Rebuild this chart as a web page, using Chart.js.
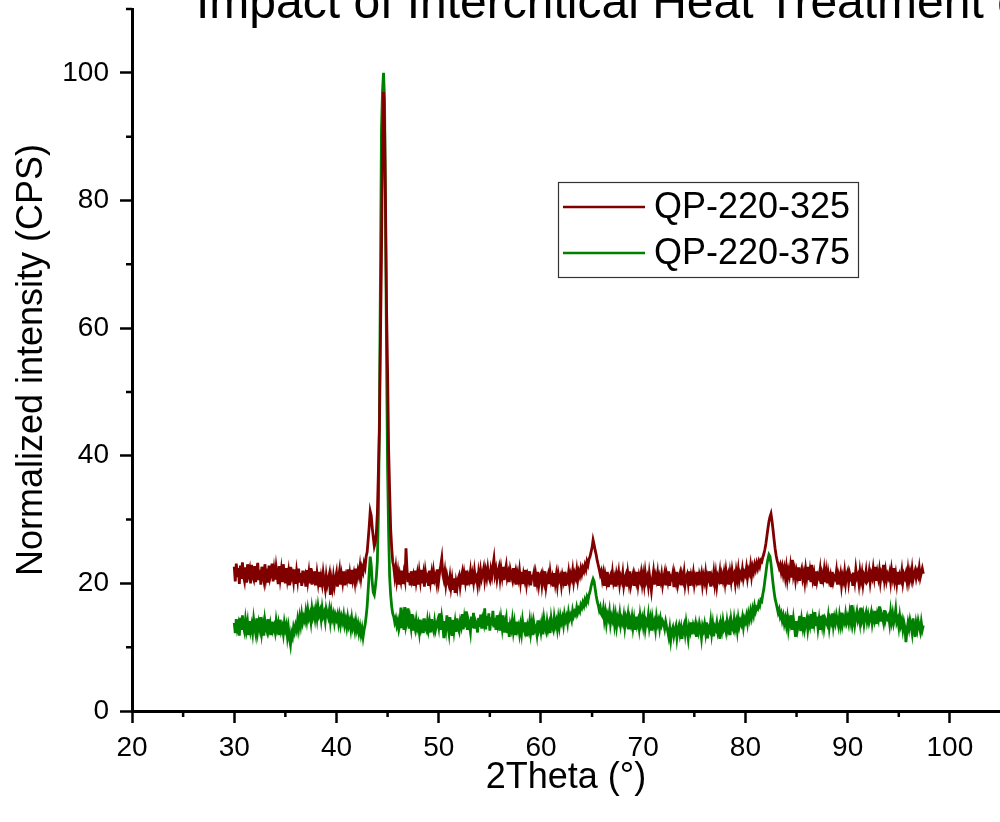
<!DOCTYPE html>
<html>
<head>
<meta charset="utf-8">
<script src="https://cdn.jsdelivr.net/npm/chart.js@4.4.1/dist/chart.umd.min.js"></script>
<style>
    html, body { margin: 0; padding: 0; background: #fff; overflow: hidden; }
</style>
</head>
<body>
<canvas id="chartXRD" width="1000" height="822"></canvas>
<script>
// 2Theta grid: 30.0 .. 97.4 every 0.1 deg, one line below = 1 deg (10 values)
const inicio2Theta = 30.0
const paso2Theta = 0.1

// QP-220-325
const qp220_325 = [
    22.6, 20.3, 23.1, 21.0, 22.4, 19.9, 22.8, 20.7, 23.3, 21.2, // 30
    20.4, 22.5, 20.1, 23.0, 21.5, 22.2, 20.0, 22.9, 21.1, 20.6,
    22.7, 20.2, 21.9, 23.2, 20.5, 22.1, 19.8, 22.6, 21.3, 20.4,
    23.0, 21.0, 22.3, 20.1, 22.8, 20.9, 21.6, 23.1, 20.3, 22.0,
    20.6, 22.5, 21.2, 19.9, 22.7, 20.8, 22.1, 20.2, 23.0, 21.4,
    20.0, 22.4, 20.7, 21.8, 19.7, 22.6, 20.9, 21.5, 20.3, 22.2, // 35
    19.9, 21.8, 20.5, 22.3, 20.1, 21.6, 19.6, 22.0, 20.8, 21.3,
    19.5, 22.1, 20.4, 21.7, 20.0, 22.4, 19.8, 21.2, 20.6, 21.9,
    19.7, 21.5, 20.2, 21.8, 19.4, 20.9, 19.9, 21.6, 20.3, 19.2,
    21.1, 19.8, 20.6, 21.4, 18.2, 20.5, 19.4, 21.0, 19.6, 20.7,
    21.6, 19.5, 20.9, 22.0, 19.8, 21.3, 20.2, 21.9, 19.7, 21.1, // 40
    20.5, 22.2, 20.0, 21.4, 19.9, 22.1, 20.6, 21.5, 20.3, 22.3,
    20.9, 22.0, 21.2, 22.6, 21.0, 22.4, 21.8, 23.1, 22.5, 24.2,
    24.9, 26.8, 28.9, 31.3, 30.6, 28.7, 27.2, 25.8, 26.4, 27.9,
    31.0, 37.5, 44.0, 58.0, 71.0, 88.0, 97.0, 92.0, 79.0, 63.0,
    53.0, 41.0, 34.5, 28.5, 25.6, 23.4, 22.6, 21.1, 22.4, 20.5, // 45
    21.7, 19.8, 21.3, 20.4, 22.0, 19.9, 21.5, 20.6, 25.5, 22.1,
    20.2, 21.6, 19.7, 21.9, 20.5, 21.2, 19.6, 22.0, 20.3, 21.4,
    19.8, 21.7, 20.4, 22.1, 20.0, 21.3, 19.5, 21.8, 20.7, 21.1,
    19.6, 22.0, 20.3, 21.5, 19.9, 21.8, 20.6, 21.2, 20.1, 22.2,
    20.5, 21.9, 22.8, 23.9, 21.4, 20.6, 21.8, 19.9, 21.2, 20.3, // 50
    19.7, 21.0, 19.4, 20.6, 19.0, 20.8, 18.5, 20.2, 19.3, 20.7,
    21.2, 19.6, 20.9, 21.7, 19.8, 21.4, 20.3, 22.0, 19.7, 21.1,
    20.5, 21.8, 19.9, 21.3, 20.2, 21.9, 20.6, 21.0, 19.8, 21.6,
    20.4, 22.0, 20.8, 21.6, 22.4, 20.6, 21.9, 20.9, 22.3, 21.0,
    20.5, 22.1, 21.2, 22.7, 23.8, 21.4, 22.2, 20.7, 21.8, 22.5, // 55
    20.8, 22.3, 21.1, 22.6, 20.5, 21.9, 22.8, 20.9, 21.6, 20.2,
    22.1, 21.3, 20.6, 22.4, 20.9, 21.7, 19.8, 21.5, 20.7, 22.0,
    20.3, 21.8, 19.9, 21.4, 20.6, 22.1, 20.0, 21.2, 20.5, 21.9,
    19.7, 21.0, 20.8, 21.6, 19.5, 21.3, 20.2, 21.8, 19.9, 21.1,
    21.5, 19.8, 21.2, 20.3, 21.9, 19.6, 20.8, 21.4, 19.9, 21.7, // 60
    20.4, 21.0, 19.5, 21.6, 20.1, 21.3, 19.8, 21.5, 20.6, 21.1,
    19.7, 21.2, 20.4, 21.8, 19.6, 21.0, 20.5, 21.7, 20.0, 21.4,
    20.8, 22.0, 20.3, 21.5, 20.9, 22.1, 20.6, 21.8, 21.2, 22.3,
    21.5, 22.4, 21.9, 22.8, 22.2, 23.4, 22.9, 23.8, 24.2, 24.9,
    25.6, 26.8, 26.1, 25.2, 24.5, 23.6, 22.9, 22.2, 21.4, 21.9, // 65
    20.6, 21.5, 19.6, 21.2, 20.3, 21.8, 19.4, 20.9, 21.3, 19.8,
    21.6, 20.2, 20.9, 19.5, 21.4, 20.6, 21.7, 19.9, 21.0, 20.4,
    21.6, 19.7, 20.8, 21.3, 19.5, 21.5, 20.2, 21.9, 19.8, 20.7,
    21.4, 19.6, 21.1, 20.3, 21.8, 19.9, 21.2, 20.5, 21.6, 20.0,
    21.3, 19.9, 21.7, 20.4, 21.0, 19.7, 21.5, 20.2, 18.9, 20.6, // 70
    21.8, 19.8, 21.2, 20.5, 21.6, 19.6, 21.0, 20.3, 21.4, 19.8,
    20.9, 21.7, 19.7, 21.3, 20.4, 21.9, 19.6, 21.0, 20.7, 21.6,
    19.4, 21.2, 20.3, 21.8, 19.9, 20.8, 21.5, 19.7, 21.3, 20.5,
    21.7, 19.8, 20.9, 21.4, 20.1, 21.9, 19.6, 21.2, 20.5, 21.6,
    19.9, 21.0, 20.4, 21.8, 19.7, 21.3, 20.6, 21.5, 19.8, 21.1, // 75
    20.3, 21.6, 19.9, 21.2, 20.7, 21.9, 19.5, 21.0, 20.4, 21.7,
    20.0, 21.4, 19.7, 21.1, 20.6, 21.8, 19.9, 21.3, 20.5, 21.6,
    20.2, 21.9, 20.6, 21.3, 19.8, 21.6, 20.4, 22.0, 20.9, 21.4,
    20.1, 21.8, 20.7, 22.1, 20.5, 21.5, 21.0, 22.2, 20.8, 21.7,
    21.3, 22.4, 20.9, 22.1, 21.6, 22.8, 21.2, 22.5, 21.8, 22.9, // 80
    22.2, 23.1, 22.4, 23.3, 22.7, 23.6, 23.4, 24.1, 24.6, 25.3,
    26.2, 27.4, 28.6, 29.7, 30.4, 30.9, 29.8, 28.4, 26.9, 25.5,
    24.4, 23.6, 23.0, 22.4, 22.9, 21.8, 22.6, 21.4, 22.3, 21.0,
    22.4, 20.7, 22.0, 21.2, 22.6, 20.9, 23.7, 21.3, 22.1, 20.6,
    21.9, 21.1, 22.5, 20.4, 21.7, 22.3, 20.8, 21.6, 20.3, 22.2, // 85
    21.0, 22.6, 20.5, 21.8, 20.2, 22.9, 20.7, 21.5, 19.6, 21.9,
    20.4, 21.3, 20.9, 22.1, 19.9, 21.4, 20.6, 22.0, 20.2, 21.7,
    20.0, 21.6, 20.5, 21.2, 19.4, 21.8, 20.3, 21.0, 20.7, 21.9,
    19.8, 21.3, 20.6, 21.5, 19.7, 21.1, 20.4, 21.8, 20.1, 21.4,
    21.9, 20.2, 21.5, 20.8, 21.1, 19.6, 21.7, 20.4, 22.2, 20.9, // 90
    21.3, 20.0, 21.8, 20.5, 21.6, 19.9, 21.2, 20.7, 21.9, 20.3,
    20.6, 21.8, 20.2, 21.5, 20.9, 22.3, 21.0, 22.6, 20.4, 21.7,
    20.8, 22.0, 20.3, 21.6, 21.1, 22.9, 20.7, 21.9, 20.5, 21.4,
    20.9, 21.7, 20.3, 22.1, 21.0, 22.4, 20.5, 21.5, 20.1, 21.8,
    19.8, 21.2, 20.6, 21.9, 20.2, 21.4, 20.9, 21.6, 20.4, 22.0, // 95
    20.5, 21.7, 20.8, 22.2, 20.6, 21.4, 22.0, 20.9, 21.8, 21.2,
    22.4, 20.9, 21.6, 22.3, 21.5
]

// QP-220-375
const qp220_375 = [
    13.8, 12.2, 14.4, 12.9, 13.6, 11.8, 14.6, 12.7, 15.0, 13.1, // 30
    12.4, 14.2, 12.8, 13.9, 11.9, 14.1, 12.6, 13.5, 12.3, 14.3,
    13.0, 12.1, 14.5, 12.6, 13.8, 12.9, 14.7, 12.3, 13.4, 11.8,
    14.2, 13.1, 12.5, 14.4, 12.8, 13.6, 11.9, 14.0, 12.7, 13.3,
    12.4, 14.1, 12.9, 13.7, 11.9, 14.3, 12.6, 13.2, 12.1, 13.8,
    12.8, 13.5, 11.7, 13.0, 11.4, 10.4, 12.2, 11.6, 13.1, 12.4, // 35
    13.4, 12.7, 14.2, 13.0, 14.6, 13.5, 15.1, 13.9, 14.7, 14.1,
    15.5, 14.3, 15.8, 14.6, 15.2, 14.0, 16.0, 14.8, 15.6, 14.5,
    15.9, 14.6, 16.3, 15.1, 15.7, 14.4, 16.1, 14.9, 15.4, 14.2,
    16.0, 15.3, 14.7, 15.8, 14.1, 15.6, 14.5, 15.2, 13.9, 15.0,
    14.4, 15.1, 13.8, 14.9, 13.6, 14.7, 14.0, 15.0, 13.5, 14.3, // 40
    13.2, 14.6, 13.4, 14.1, 12.9, 14.4, 13.1, 13.8, 12.7, 14.0,
    12.8, 13.6, 12.3, 13.2, 12.0, 12.9, 11.6, 12.7, 13.5, 14.8,
    16.4, 18.9, 21.6, 24.2, 22.8, 20.1, 18.6, 18.2, 19.4, 21.0,
    23.5, 31.0, 46.0, 68.0, 91.0, 97.0, 100.0, 96.0, 77.0, 55.0,
    38.0, 28.0, 21.0, 18.2, 16.4, 15.3, 14.8, 13.9, 14.5, 13.4, // 45
    14.1, 12.8, 13.6, 16.2, 13.0, 14.4, 12.7, 16.3, 13.3, 14.0,
    16.1, 12.9, 14.3, 13.1, 15.2, 12.6, 13.8, 12.9, 14.2, 13.0,
    13.7, 12.4, 14.3, 12.9, 13.5, 12.2, 14.5, 13.0, 12.6, 14.1,
    12.8, 13.9, 12.3, 14.4, 13.1, 12.5, 14.0, 12.8, 13.6, 14.2,
    13.2, 15.3, 12.7, 14.6, 13.4, 11.4, 14.1, 12.9, 15.0, 13.3, // 50
    12.2, 14.7, 13.0, 11.8, 14.3, 12.6, 13.9, 12.4, 14.5, 13.1,
    12.5, 14.0, 13.3, 15.2, 12.8, 14.4, 13.1, 15.6, 12.7, 14.2,
    13.5, 12.4, 14.8, 13.0, 15.4, 12.9, 14.1, 13.6, 12.3, 14.6,
    13.2, 15.1, 12.9, 14.4, 13.7, 16.1, 12.8, 14.9, 13.4, 15.3,
    12.6, 14.2, 13.9, 15.7, 13.1, 14.6, 12.7, 15.0, 13.5, 14.3, // 55
    12.6, 14.4, 13.1, 15.0, 12.3, 13.8, 14.6, 12.2, 13.9, 11.6,
    13.5, 12.8, 14.2, 12.5, 13.7, 11.9, 14.0, 12.7, 13.3, 12.1,
    13.4, 12.2, 14.1, 12.9, 12.4, 13.9, 11.7, 13.3, 12.6, 14.0,
    12.3, 13.6, 11.9, 13.8, 12.7, 13.1, 12.0, 14.2, 12.8, 13.5,
    12.4, 13.7, 12.0, 14.3, 13.1, 12.5, 14.0, 12.8, 13.6, 12.2, // 60
    14.4, 13.2, 12.7, 14.6, 13.4, 14.1, 12.9, 14.5, 13.3, 14.8,
    13.9, 14.6, 13.5, 15.1, 14.2, 14.8, 13.8, 15.4, 14.5, 15.0,
    14.3, 15.7, 14.9, 15.5, 15.1, 16.2, 15.4, 16.0, 15.6, 16.6,
    16.2, 17.0, 16.5, 17.4, 16.9, 17.8, 17.3, 18.2, 18.7, 19.5,
    20.2, 20.7, 20.3, 19.2, 18.1, 17.2, 16.6, 15.8, 16.3, 15.2, // 65
    14.9, 16.0, 14.3, 15.4, 13.8, 15.1, 14.5, 15.6, 13.7, 14.8,
    14.2, 15.3, 13.6, 14.9, 13.3, 14.6, 14.0, 15.2, 13.5, 14.4,
    13.8, 14.9, 13.2, 14.6, 13.9, 15.0, 12.8, 14.4, 13.6, 14.7,
    13.1, 14.3, 12.7, 14.8, 13.5, 14.2, 13.0, 14.9, 13.7, 14.5,
    13.3, 14.6, 12.9, 14.1, 13.7, 15.0, 13.2, 14.3, 12.6, 14.5, // 70
    13.4, 14.0, 12.8, 14.7, 13.6, 14.2, 13.0, 14.4, 13.5, 14.1,
    13.7, 12.9, 14.0, 13.2, 12.5, 11.6, 12.9, 11.2, 12.6, 13.1,
    11.8, 12.7, 13.3, 11.5, 12.8, 13.4, 12.1, 13.0, 11.3, 12.9,
    13.5, 12.2, 13.8, 12.6, 11.4, 13.2, 12.5, 13.9, 12.0, 13.4,
    12.8, 13.6, 11.6, 13.1, 12.4, 13.7, 12.9, 11.5, 13.3, 12.7, // 75
    13.6, 12.3, 13.9, 11.4, 13.0, 12.6, 14.0, 12.2, 13.5, 11.7,
    13.2, 12.8, 13.8, 12.4, 13.1, 11.3, 13.6, 12.7, 14.1, 12.9,
    13.4, 12.5, 14.0, 12.8, 13.6, 11.9, 14.2, 13.1, 12.7, 14.3,
    13.0, 13.9, 12.6, 14.4, 13.3, 14.1, 13.6, 14.6, 13.2, 14.5,
    14.0, 14.9, 13.8, 15.2, 14.4, 15.6, 14.7, 15.9, 15.1, 16.4, // 80
    15.6, 16.2, 16.0, 16.9, 16.5, 17.4, 17.2, 18.3, 19.1, 20.4,
    21.6, 22.9, 23.8, 24.5, 24.2, 23.1, 21.5, 20.0, 18.7, 17.6,
    16.9, 16.2, 15.4, 15.9, 14.8, 15.3, 14.2, 14.9, 13.7, 14.5,
    13.4, 14.6, 12.9, 14.2, 13.6, 15.0, 12.7, 14.4, 13.1, 11.6,
    14.1, 12.8, 13.7, 14.9, 12.5, 14.3, 13.2, 14.7, 12.9, 13.8, // 85
    14.5, 12.8, 14.1, 13.4, 15.2, 12.9, 14.6, 13.7, 15.5, 13.3,
    14.8, 13.0, 14.3, 12.7, 14.9, 13.6, 15.1, 13.2, 14.4, 13.9,
    13.5, 14.8, 13.1, 14.4, 13.9, 15.3, 13.4, 14.6, 13.8, 15.0,
    14.1, 13.3, 14.9, 13.7, 15.4, 13.6, 14.5, 13.9, 15.2, 14.0,
    14.7, 13.8, 15.3, 14.2, 16.6, 14.0, 15.1, 13.6, 14.8, 15.6, // 90
    14.3, 15.0, 13.9, 16.2, 14.4, 15.2, 13.7, 14.9, 15.5, 14.1,
    15.0, 13.9, 14.6, 15.4, 13.8, 14.9, 14.2, 15.7, 13.6, 15.1,
    14.4, 16.4, 14.0, 15.3, 14.7, 13.9, 15.8, 14.3, 15.0, 14.5,
    14.9, 13.7, 15.5, 14.1, 15.2, 13.8, 14.6, 15.9, 13.9, 14.4,
    13.2, 14.8, 13.5, 14.2, 12.8, 13.9, 13.1, 10.8, 12.6, 13.8, // 95
    12.9, 14.2, 13.4, 12.3, 14.5, 13.0, 11.6, 13.7, 12.8, 14.1,
    13.3, 12.5, 13.9, 12.7, 13.4
]

const etiquetas = ['QP-220-325', 'QP-220-375']
const colores = ['rgb(128,0,0)', 'rgb(0,128,0)']
const tituloGrafico = 'Impact of Intercritical Heat Treatment on XRD Patterns'
const tituloX = '2Theta (°)'
const tituloY = 'Normalized intensity (CPS)'
const ticksMenoresX = [25, 35, 45, 55, 65, 75, 85, 95]
const ticksMenoresY = [10, 30, 50, 70, 90, 110]

const fuente = '"Liberation Sans", Arial, Helvetica, sans-serif'

function aPuntos(valores) {
    return valores.map((v, i) => ({x: +(inicio2Theta + i * paso2Theta).toFixed(1), y: v}))
}

// title is cut by the top edge in the original picture
const pluginTitulo = {
    id: 'tituloRecortado',
    afterDraw(chart) {
        const ctx = chart.ctx
        ctx.save()
        ctx.fillStyle = '#000'
        ctx.font = '48px ' + fuente
        ctx.textBaseline = 'alphabetic'
        ctx.textAlign = 'left'
        ctx.fillText(tituloGrafico, 196, 18)
        ctx.restore()
    }
}

// short minor ticks between the labelled ones
const pluginTicksMenores = {
    id: 'ticksMenores',
    afterDraw(chart) {
        const ctx = chart.ctx
        const sx = chart.scales.x
        const sy = chart.scales.y
        ctx.save()
        ctx.strokeStyle = '#000'
        ctx.lineWidth = 2.5
        ctx.beginPath()
        ticksMenoresX.forEach(v => {
            const px = sx.getPixelForValue(v)
            ctx.moveTo(px, sx.top)
            ctx.lineTo(px, sx.top + 6)
        })
        ticksMenoresY.forEach(v => {
            const py = sy.getPixelForValue(v)
            ctx.moveTo(sy.right, py)
            ctx.lineTo(sy.right - 6, py)
        })
        ctx.stroke()
        ctx.restore()
    }
}

// boxed legend inside the plot, as in the original
const pluginLeyenda = {
    id: 'leyendaCaja',
    afterDraw(chart) {
        const ctx = chart.ctx
        const x0 = 558, y0 = 182, ancho = 300, alto = 95
        ctx.save()
        ctx.fillStyle = '#fff'
        ctx.fillRect(x0, y0, ancho, alto)
        ctx.strokeStyle = '#333'
        ctx.lineWidth = 1.2
        ctx.strokeRect(x0 + 0.5, y0 + 0.5, ancho, alto)
        ctx.font = '36px ' + fuente
        ctx.textBaseline = 'middle'
        ctx.textAlign = 'left'
        chart.data.datasets.forEach((ds, i) => {
            const y = y0 + 25 + i * 46
            ctx.strokeStyle = ds.borderColor
            ctx.lineWidth = 2.5
            ctx.beginPath()
            ctx.moveTo(x0 + 5, y)
            ctx.lineTo(x0 + 87, y)
            ctx.stroke()
            ctx.fillStyle = '#000'
            ctx.fillText(ds.label, x0 + 96, y + 1)
        })
        ctx.restore()
    }
}

Chart.defaults.font.family = fuente
Chart.defaults.color = '#000'

const ctx = document.getElementById('chartXRD').getContext('2d')
const grafico = new Chart(ctx, {
    type: 'line',
    data: {
        datasets: [
            {
                label: etiquetas[0],
                data: aPuntos(qp220_325),
                borderColor: colores[0],
                backgroundColor: colores[0],
                borderWidth: 2.8,
                pointRadius: 0,
                tension: 0,
            },
            {
                label: etiquetas[1],
                data: aPuntos(qp220_375),
                borderColor: colores[1],
                backgroundColor: colores[1],
                borderWidth: 2.8,
                pointRadius: 0,
                tension: 0,
            },
        ],
    },
    options: {
        responsive: false,
        animation: false,
        layout: {
            padding: {top: 9, right: 0, bottom: 0, left: 0}
        },
        plugins: {
            legend: {display: false},
            title: {display: false},
            tooltip: {enabled: false},
        },
        scales: {
            x: {
                type: 'linear',
                min: 20,
                max: 104.9,
                afterFit(scale) {
                    scale.height = 111
                    scale.paddingLeft = 0
                    scale.paddingRight = 0
                },
                border: {display: true, color: '#000', width: 3},
                grid: {drawOnChartArea: false, drawTicks: true, tickLength: 12, tickWidth: 2.5, tickColor: '#000'},
                ticks: {stepSize: 10, includeBounds: false, padding: 8, color: '#000', font: {size: 28}, maxRotation: 0},
                title: {display: true, text: tituloX, color: '#000', font: {size: 36}, padding: {top: 0, bottom: 22}},
            },
            y: {
                type: 'linear',
                min: 0,
                max: 110,
                afterFit(scale) {
                    scale.width = 132
                    scale.paddingTop = 0
                    scale.paddingBottom = 0
                },
                border: {display: true, color: '#000', width: 3},
                grid: {drawOnChartArea: false, drawTicks: true, tickLength: 12, tickWidth: 2.5, tickColor: '#000'},
                ticks: {stepSize: 20, includeBounds: false, padding: 11, color: '#000', font: {size: 28}},
                title: {display: true, text: tituloY, color: '#000', font: {size: 36}, padding: {top: 10, bottom: 0}},
            },
        },
    },
    plugins: [pluginTitulo, pluginTicksMenores, pluginLeyenda],
})
</script>
</body>
</html>
